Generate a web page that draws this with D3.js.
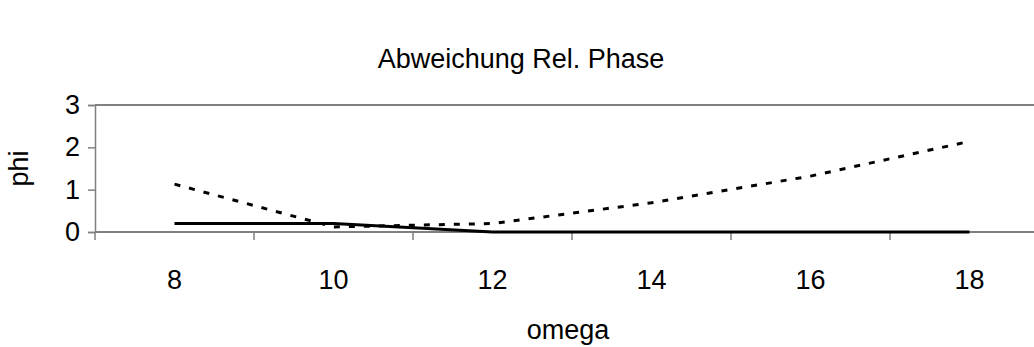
<!DOCTYPE html>
<html>
<head>
<meta charset="utf-8">
<script src="https://cdn.jsdelivr.net/npm/d3@7/dist/d3.min.js"></script>
<style>
  html, body { margin: 0; padding: 0; background: #fff; }
  svg { display: block; }
  text { font-family: "Liberation Sans", Arial, sans-serif; fill: #000; }
</style>
</head>
<body>
<svg id="chart" width="1034" height="347"></svg>
<script>
// omega categories along the x axis
const omega = ["8", "10", "12", "14", "16", "18"];
// deviation of relative phase, two series
const phiSolid  = [0.2, 0.2, 0, 0, 0, 0];
const phiDashed = [1.13, 0.12, 0.2, 0.69, 1.32, 2.14];
const yTicks = [0, 1, 2, 3];

const svg = d3.select("#chart");
const W = 1034, H = 347;
const plot = { left: 95, right: 1049, top: 105, bottom: 232 };
const fontSize = "27px";

const x = d3.scaleBand().domain(omega).range([plot.left, plot.right]).paddingInner(0).paddingOuter(0);
const y = d3.scaleLinear().domain([0, 3]).range([plot.bottom, plot.top]);

const axisGray = "#808080";

// top border of the plot area
svg.append("line")
  .attr("x1", plot.left).attr("x2", W)
  .attr("y1", y(3)).attr("y2", y(3))
  .attr("stroke", axisGray).attr("stroke-width", 2);

// y axis
const yAxis = svg.append("g")
  .attr("transform", `translate(${plot.left},0)`)
  .call(d3.axisLeft(y).tickValues(yTicks).tickFormat(d3.format("d")).tickSize(7).tickPadding(8));
yAxis.select(".domain").attr("stroke", axisGray).attr("stroke-width", 1.5);
yAxis.selectAll(".tick line").attr("stroke", axisGray).attr("stroke-width", 1.5);
yAxis.selectAll(".tick text").style("font-size", fontSize).attr("fill", "#000");

// x axis: ticks on category boundaries, labels at category centres
const xAxisG = svg.append("g").attr("transform", `translate(0,${plot.bottom})`);
xAxisG.append("line")
  .attr("x1", plot.left).attr("x2", W)
  .attr("y1", 0).attr("y2", 0)
  .attr("stroke", axisGray).attr("stroke-width", 2);
const boundaries = omega.map(d => x(d)).concat([x(omega[omega.length - 1]) + x.bandwidth()]);
xAxisG.selectAll("line.tick")
  .data(boundaries)
  .join("line")
  .attr("class", "tick")
  .attr("x1", d => d).attr("x2", d => d)
  .attr("y1", 0).attr("y2", 8)
  .attr("stroke", axisGray).attr("stroke-width", 1.5);
xAxisG.selectAll("text.lbl")
  .data(omega)
  .join("text")
  .attr("class", "lbl")
  .attr("x", d => x(d) + x.bandwidth() / 2)
  .attr("y", 57)
  .attr("text-anchor", "middle")
  .style("font-size", fontSize)
  .text(d => d);

// series lines
const line = d3.line()
  .x((d, i) => x(omega[i]) + x.bandwidth() / 2)
  .y(d => y(d));

svg.append("path")
  .datum(phiDashed)
  .attr("d", line)
  .attr("fill", "none")
  .attr("stroke", "#000")
  .attr("stroke-width", 3)
  .attr("stroke-dasharray", "6,9");

svg.append("path")
  .datum(phiSolid)
  .attr("d", line)
  .attr("fill", "none")
  .attr("stroke", "#000")
  .attr("stroke-width", 3);

// titles
svg.append("text")
  .attr("x", 521).attr("y", 68)
  .attr("text-anchor", "middle")
  .style("font-size", fontSize)
  .text("Abweichung Rel. Phase");

svg.append("text")
  .attr("x", (plot.left + plot.right) / 2 - 4).attr("y", 339)
  .attr("text-anchor", "middle")
  .style("font-size", fontSize)
  .text("omega");

svg.append("text")
  .attr("transform", `translate(28,${(plot.top + plot.bottom) / 2}) rotate(-90)`)
  .attr("text-anchor", "middle")
  .style("font-size", fontSize)
  .text("phi");
</script>
</body>
</html>
